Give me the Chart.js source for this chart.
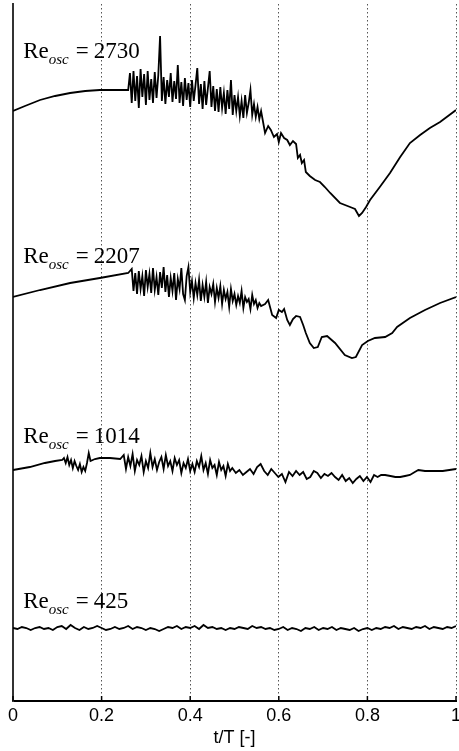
<!DOCTYPE html>
<html>
<head>
<meta charset="utf-8">
<script src="https://cdn.jsdelivr.net/npm/chart.js@4.4.1/dist/chart.umd.min.js"></script>
<style>
  body { margin: 0; background: #fff; }
  #wrap { width: 459px; height: 751px; }
</style>
</head>
<body>
<div id="wrap"><canvas id="reChart" width="459" height="751"></canvas></div>
<script>
// oscillation Reynolds numbers, one trace each (top to bottom)
const reNumbers = [2730, 2207, 1014, 425];

// Re_osc = 2730
const t2730 = [0, 0.027, 0.061, 0.095, 0.129, 0.163, 0.196, 0.230, 0.260,
  0.264, 0.268, 0.272, 0.276, 0.280, 0.284, 0.288, 0.292, 0.296, 0.300,
  0.304, 0.308, 0.312, 0.316, 0.320, 0.324, 0.328, 0.332, 0.336, 0.340,
  0.344, 0.348, 0.352, 0.356, 0.360, 0.364, 0.368, 0.372, 0.376, 0.380,
  0.384, 0.388, 0.392, 0.396, 0.400, 0.404, 0.408, 0.412, 0.416, 0.420,
  0.424, 0.428, 0.432, 0.436, 0.440, 0.444, 0.448, 0.452, 0.456, 0.460,
  0.464, 0.468, 0.472, 0.476, 0.480, 0.484, 0.488, 0.492, 0.496, 0.500,
  0.504, 0.508, 0.512, 0.516, 0.520, 0.524, 0.528, 0.532, 0.536, 0.540,
  0.544, 0.548, 0.552, 0.556, 0.560,
  0.569, 0.576, 0.582, 0.589, 0.596, 0.600, 0.605, 0.612, 0.619, 0.625,
  0.632, 0.639, 0.643, 0.648, 0.652, 0.657, 0.661, 0.670, 0.682, 0.693,
  0.704, 0.716, 0.738, 0.761, 0.772, 0.781, 0.788, 0.797, 0.806, 0.828,
  0.851, 0.874, 0.896, 0.919, 0.941, 0.964, 1.0];
const v2730 = [590, 595, 601, 605, 608, 610, 611, 611, 611,
  628, 598, 630, 600, 625, 593, 632, 604, 627, 596,
  630, 601, 622, 598, 629, 603, 626, 665, 600, 624,
  597, 621, 604, 628, 599, 620, 602, 636, 598, 619,
  595, 623, 601, 618, 594, 621, 600, 616, 633, 597,
  617, 592, 620, 596, 613, 630, 594, 615, 590, 612,
  589, 614, 593, 608, 587, 611, 592, 621, 586, 606,
  590, 604, 585, 600, 583, 606, 588, 598, 611, 586,
  597, 584, 594, 582, 590,
  568, 575, 571, 564, 567, 559, 568, 563, 561, 556,
  560, 557, 543, 546, 538, 541, 529, 525, 521, 519,
  514, 508, 498, 494, 492, 485, 488, 494, 501, 514,
  528, 544, 558, 566, 573, 579, 591];

// Re_osc = 2207
const t2207 = [0, 0.061, 0.129, 0.196, 0.260,
  0.268, 0.272, 0.276, 0.280, 0.284, 0.288, 0.292, 0.296, 0.300, 0.304,
  0.308, 0.312, 0.316, 0.320, 0.324, 0.328, 0.332, 0.336, 0.340, 0.344,
  0.348, 0.352, 0.356, 0.360, 0.364, 0.368, 0.372, 0.376, 0.380, 0.384,
  0.388, 0.392, 0.396, 0.400, 0.404, 0.408, 0.412, 0.416, 0.420, 0.424,
  0.428, 0.432, 0.436, 0.440, 0.444, 0.448, 0.452, 0.456, 0.460, 0.464,
  0.468, 0.472, 0.476, 0.480, 0.484, 0.488, 0.492, 0.496, 0.500, 0.504,
  0.508, 0.512, 0.516, 0.520, 0.524, 0.528, 0.532, 0.536, 0.540, 0.544,
  0.548, 0.552, 0.556, 0.560,
  0.569, 0.576, 0.585, 0.594, 0.600, 0.607, 0.612, 0.619, 0.625, 0.632,
  0.639, 0.648, 0.655, 0.661, 0.670, 0.679, 0.688, 0.697, 0.709, 0.727,
  0.749, 0.765, 0.774, 0.788, 0.801, 0.817, 0.840, 0.856, 0.867, 0.896,
  0.930, 0.964, 1.0];
const v2207 = [404, 411, 418, 423, 428,
  432, 410, 428, 407, 430, 412, 425, 405, 431, 414,
  427, 408, 433, 411, 424, 406, 429, 413, 434, 409,
  426, 404, 423, 410, 428, 401, 422, 412, 433, 407,
  401, 425, 434, 409, 420, 403, 418, 406, 421, 400,
  416, 404, 419, 398, 414, 407, 417, 399, 413, 403,
  415, 397, 411, 402, 409, 394, 412, 400, 407, 396,
  405, 398, 410, 393, 404, 399, 402, 392, 406, 397,
  401, 393, 398, 395,
  397, 401, 386, 383, 391, 389, 392, 381, 376, 382,
  385, 384, 376, 368, 358, 353, 354, 364, 365, 358,
  346, 343, 344, 356, 360, 363, 364, 368, 374, 383,
  391, 398, 404];

// Re_osc = 1014
const t1014 = [0, 0.038, 0.072, 0.095, 0.111,
  0.115, 0.119, 0.123, 0.127, 0.131, 0.135, 0.139, 0.143, 0.147, 0.151,
  0.155, 0.159, 0.163, 0.167, 0.171, 0.175,
  0.185, 0.196, 0.219, 0.242,
  0.250, 0.255, 0.260, 0.265, 0.270, 0.275, 0.280, 0.285, 0.290, 0.295,
  0.300, 0.305, 0.310, 0.315, 0.320, 0.325, 0.330, 0.335, 0.340, 0.345,
  0.350, 0.355, 0.360, 0.365, 0.370, 0.375, 0.380, 0.385, 0.390, 0.395,
  0.400, 0.405, 0.410, 0.415, 0.420, 0.425, 0.430, 0.435, 0.440, 0.445,
  0.450, 0.455, 0.460, 0.465, 0.470, 0.475, 0.480, 0.485, 0.490,
  0.495, 0.503, 0.511, 0.519, 0.527, 0.535, 0.543, 0.551, 0.559, 0.567,
  0.575, 0.583, 0.591, 0.599, 0.607, 0.615, 0.623, 0.631, 0.639, 0.647,
  0.655, 0.663, 0.671, 0.679, 0.687, 0.695, 0.703, 0.711, 0.719, 0.727,
  0.735, 0.743, 0.751, 0.759, 0.767, 0.775, 0.783, 0.791, 0.799, 0.807,
  0.815, 0.823, 0.831,
  0.840, 0.852, 0.863, 0.874, 0.885, 0.896, 0.907, 0.915, 0.930, 0.950,
  0.970, 1.0];
const v1014 = [231, 234, 238, 240, 241,
  243, 238, 244, 236, 241, 233, 240, 235, 231, 237,
  229, 234, 230, 238, 248, 240,
  242, 243, 243, 242,
  246, 232, 244, 235, 247, 230, 241, 236, 245, 229,
  240, 233, 248, 234, 242, 231, 239, 244, 232, 246,
  235, 240, 230, 243, 236, 241, 228, 238, 233, 242,
  230, 237, 229, 240, 234, 245, 231, 238, 227, 241,
  233, 236, 226, 239, 231, 235, 225, 237, 230,
  233, 228, 231, 226, 229, 232, 227, 234, 237, 230,
  226, 232, 228, 224, 227, 219, 229, 225, 230, 226,
  229, 222, 224, 230, 228, 223, 227, 225, 228, 224,
  221, 226, 220, 223, 218, 222, 225, 220, 224, 219,
  226, 224, 226,
  226, 225, 224, 224, 225, 226, 229, 231, 230, 230,
  230, 232];

// Re_osc = 425
const t425 = [0, 0.01, 0.02, 0.03, 0.04, 0.05, 0.06, 0.07, 0.08, 0.09,
  0.10, 0.11, 0.12, 0.13, 0.14, 0.15, 0.16, 0.17, 0.18, 0.19,
  0.20, 0.21, 0.22, 0.23, 0.24, 0.25, 0.26, 0.27, 0.28, 0.29,
  0.30, 0.31, 0.32, 0.33, 0.34, 0.35, 0.36, 0.37, 0.38, 0.39,
  0.40, 0.41, 0.42, 0.43, 0.44, 0.45, 0.46, 0.47, 0.48, 0.49,
  0.50, 0.51, 0.52, 0.53, 0.54, 0.55, 0.56, 0.57, 0.58, 0.59,
  0.60, 0.61, 0.62, 0.63, 0.64, 0.65, 0.66, 0.67, 0.68, 0.69,
  0.70, 0.71, 0.72, 0.73, 0.74, 0.75, 0.76, 0.77, 0.78, 0.79,
  0.80, 0.81, 0.82, 0.83, 0.84, 0.85, 0.86, 0.87, 0.88, 0.89,
  0.90, 0.91, 0.92, 0.93, 0.94, 0.95, 0.96, 0.97, 0.98, 0.99,
  1.0];
const v425 = [73, 72, 74, 73, 71, 73, 74, 72, 73, 71,
  74, 75, 72, 76, 73, 71, 74, 72, 73, 75,
  73, 71, 72, 74, 72, 73, 75, 72, 74, 73,
  71, 73, 72, 70, 72, 74, 73, 75, 72, 74,
  73, 75, 72, 76, 73, 74, 72, 73, 71, 73,
  72, 74, 73, 72, 75, 73, 74, 72, 73, 71,
  72, 74, 71, 73, 72, 70, 73, 72, 74, 71,
  73, 72, 74, 71, 73, 72, 71, 73, 70, 72,
  73, 71, 73, 72, 74, 73, 75, 72, 74, 73,
  72, 74, 73, 75, 72, 74, 73, 72, 74, 73,
  75];

const xTickStep = 0.2;

function toPoints(ts, vs) {
  return ts.map((t, i) => ({ x: t, y: vs[i] }));
}

const series = [
  toPoints(t2730, v2730),
  toPoints(t2207, v2207),
  toPoints(t1014, v1014),
  toPoints(t425, v425)
];

// "Re_osc = N" labels beside each trace, plus short inward ticks on the time axis
const reLabels = {
  id: "reLabels",
  afterDatasetsDraw(chart, args, opts) {
    const ctx = chart.ctx;
    const xs = chart.scales.x;
    const ys = chart.scales.y;
    ctx.save();
    ctx.fillStyle = "#000";
    ctx.textBaseline = "alphabetic";
    reNumbers.forEach((re, i) => {
      let x = xs.getPixelForValue(opts.t);
      const y = ys.getPixelForValue(opts.levels[i]);
      ctx.font = "23px 'Liberation Serif'";
      ctx.fillText("Re", x, y);
      x += ctx.measureText("Re").width;
      ctx.font = "italic 15px 'Liberation Serif'";
      ctx.fillText("osc", x, y + 6);
      x += ctx.measureText("osc").width + 7;
      ctx.font = "23px 'Liberation Serif'";
      ctx.fillText("=", x, y);
      x += ctx.measureText("=").width + 5;
      ctx.fillText(String(re), x, y);
    });

    ctx.strokeStyle = "#000";
    ctx.lineWidth = 1.5;
    xs.ticks.forEach(tk => {
      const px = xs.getPixelForValue(tk.value);
      ctx.beginPath();
      ctx.moveTo(px, xs.top);
      ctx.lineTo(px, xs.top - 5);
      ctx.stroke();
    });
    ctx.restore();
  }
};

new Chart(document.getElementById("reChart").getContext("2d"), {
  type: "line",
  data: {
    datasets: series.map((pts, i) => ({
      label: "Re_osc = " + reNumbers[i],
      data: pts,
      borderColor: "#000",
      borderWidth: 1.8,
      borderJoinStyle: "miter",
      pointRadius: 0,
      tension: 0,
      fill: false
    }))
  },
  options: {
    responsive: false,
    animation: false,
    layout: { padding: { left: 13, right: 3, top: 4, bottom: 0 } },
    plugins: {
      legend: { display: false },
      tooltip: { enabled: false },
      reLabels: { t: 0.023, levels: [643, 438, 258, 93] }
    },
    scales: {
      x: {
        type: "linear",
        min: 0,
        max: 1,
        ticks: {
          stepSize: xTickStep,
          color: "#000",
          padding: 4,
          maxRotation: 0,
          font: { family: "'Liberation Sans'", size: 18 },
          callback: v => String(Math.round(v * 10) / 10)
        },
        grid: { color: "#555", lineWidth: 1, drawTicks: false },
        border: { display: true, color: "#000", width: 2, dash: [1.5, 2.5] },
        title: {
          display: true,
          text: "t/T [-]",
          color: "#000",
          font: { family: "'Liberation Sans'", size: 18 },
          padding: { top: 0, bottom: 2 }
        },
        afterFit(scale) {
          scale.height = 50;
          scale.paddingLeft = 0;
          scale.paddingRight = 0;
        }
      },
      y: {
        type: "linear",
        min: 0,
        max: 697,
        ticks: { display: false },
        grid: { display: false, drawTicks: false },
        border: { display: true, color: "#333", width: 2 },
        afterFit(scale) {
          scale.width = 0;
        }
      }
    }
  },
  plugins: [reLabels]
});
</script>
</body>
</html>
